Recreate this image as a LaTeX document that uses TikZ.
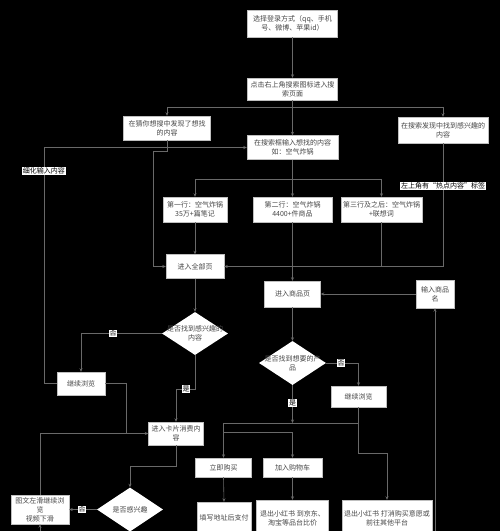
\documentclass[tikz,border=0pt]{standalone}
\usepackage{fontspec}
\setmainfont{Noto Sans CJK SC}
\usetikzlibrary{shapes.geometric,arrows.meta}
\definecolor{ln}{RGB}{105,105,105}
\definecolor{tx}{RGB}{70,70,70}
\begin{document}
\begin{tikzpicture}[x=1pt,y=-1pt,
 box/.style={draw=gray!50,line width=0.4pt,fill=white,text=tx,align=center,inner sep=1pt,font=\fontsize{7}{9}\selectfont},
 sz/.style 2 args={minimum width=#1pt,minimum height=#2pt},
 dia/.style={shape=diamond,fill=white,inner sep=0pt},
 diatext/.style={text=tx,align=center,inner sep=0pt,font=\fontsize{7}{9}\selectfont},
 conn/.style={draw=ln,line width=0.6pt,-{Stealth[length=3.5pt,width=3pt]}},
 plain/.style={draw=ln,line width=0.6pt},
 tag/.style={fill=white,text=black,inner sep=0.6pt,font=\fontsize{7}{8}\selectfont},
]
\useasboundingbox (0,0) rectangle (500,531);
\fill[black] (0,0) rectangle (500,531);
\clip (0,0) rectangle (500,531);

% nodes
\node[box,sz={90}{27}] (n1) at (292.5,23.5) {选择登录方式（qq、手机\\号、微博、苹果id）};
\node[box,sz={90}{22}] (n2) at (292.5,89) {点击右上角搜索图标进入搜\\索页面};
\node[box,sz={87}{24}] (n3) at (167,128) {在猜你想搜中发现了想找\\的内容};
\node[box,sz={91}{24}] (n4) at (292.5,147.5) {在搜索框输入想找的内容\\如：空气炸锅};
\node[box,sz={90}{26}] (n5) at (443,130) {在搜索发现中找到感兴趣的\\内容};
\node[box,sz={64}{25}] (n7) at (195,209.5) {第一行：空气炸锅\\35万+篇笔记};
\node[box,sz={79}{25}] (n8) at (292.5,209.5) {第二行：空气炸锅\\4400+件商品};
\node[box,sz={81}{25}] (n9) at (381.5,209.5) {第三行及之后：空气炸锅\\+联想词};
\node[box,sz={58}{24}] (n10) at (195,266.5) {进入全部页};
\node[box,sz={56}{26}] (n11) at (292.5,294) {进入商品页};
\node[box,sz={38}{28}] (n12) at (435,294) {输入商品\\名};

\node[dia,sz={66}{43}] (d1) at (195,333.5) {};
\node[diatext] (d1t) at (d1) {是否找到感兴趣的\\内容};
\node[box,sz={48}{23}] (c1) at (81,383.5) {继续浏览};
\node[dia,sz={67}{44}] (d2) at (292.5,363) {};
\node[diatext] (d2t) at (d2) {是否找到想要的产\\品};
\node[box,sz={55}{21}] (c2) at (358.5,396.5) {继续浏览};
\node[box,sz={55}{23}] (card) at (176,433.5) {进入卡片消费内\\容};
\node[dia,sz={66}{44}] (d3) at (130,509.5) {};
\node[diatext] (d3t) at (d3) {是否感兴趣};
\node[box,sz={58}{29}] (tw) at (40,509.5) {图文左滑继续浏\\览\\视频下滑};
\node[box,sz={56}{19}] (buy) at (223.5,467.5) {立即购买};
\node[box,sz={59}{19}] (cart) at (292.5,467.5) {加入购物车};
\node[box,sz={54}{32}] (pay) at (224,518) {填写地址后支付};
\node[box,sz={72}{36}] (ex1) at (292.5,518) {退出小红书 到京东、\\淘宝等品台比价};
\node[box,sz={90}{36}] (ex2) at (387,518) {退出小红书 打消购买意愿或\\前往其他平台};

% coordinates
\coordinate (j1) at (292.5,107);
\coordinate (rf) at (44,0);
\coordinate (a3) at (153,151);
\coordinate (j2) at (292.5,179);
\coordinate (b1) at (435,540);
\coordinate (y1) at (176,389);
\coordinate (k1) at (126,433.5);
\coordinate (k2) at (130,466);
\coordinate (b2) at (40,540);
\coordinate (j3) at (292.5,423);
\coordinate (j4) at (358.5,423);
\coordinate (j5) at (358.5,453);
\coordinate (j6) at (223.5,423);
\coordinate (j7) at (223.5,432);

% connectors
\draw[conn] (n1.south) -- (n2.north);
\draw[conn] (n2.south) -- (n4.north);
\draw[conn] (j1) -| (n3.north);
\draw[conn] (j1) -| (n5.north);
\draw[conn] (c1.west) -| (rf |- n4.west) -- (n4.west);
\draw[conn] (n3.south) |- (a3) |- (n10.west);
\draw[conn] (n4.south) -- (n8.north);
\draw[conn] (j2) -| (n7.north);
\draw[conn] (j2) -| (n9.north);
\draw[conn] (n7.south) -- (n10.north);
\draw[conn] (n8.south) -- (n11.north);
\draw[conn] (n5.south) |- (n10.east);
\draw[plain] (n9.south) -- (n9.south |- n10.east);
\draw[conn] (n12.west) -- (n11.east);
\draw[conn] (b1) -- (n12.south);
\draw[conn] (n10.south) -- (d1.north);
\draw[conn] (d1.west) -| (c1.north);
\draw[conn] (d1.south) |- (y1) -- (card.north);
\draw[plain] (c1.east) -| (k1);
\draw[conn] (tw.north) |- (card.west);
\draw[conn] (card.south) |- (k2) -- (d3.north);
\draw[conn] (d3.west) -- (tw.east);
\draw[conn] (b2) -- (tw.south);
\draw[conn] (n11.south) -- (d2.north);
\draw[conn] (d2.east) -| (c2.north);
\draw[conn] (d2.south) -- (j3);
\draw[conn] (c2.south) -- (j5) -| (ex2.north);
\draw[conn] (j4) -- (j6) -- (buy.north);
\draw[conn] (j7) -| (cart.north);
\draw[conn] (buy.south) -- (pay.north);
\draw[conn] (cart.south) -- (ex1.north);

% labels
\node[tag] (lrf) at (44,171) {细化输入内容};
\node[tag] (lhot) at (443,186) {左上角有“热点内容”标签};
\node[tag] (no1) at (113,333.5) {否};
\node[tag] (yes1) at (186,389) {是};
\node[tag] (no2) at (341,363) {否};
\node[tag] (yes2) at (292.5,403) {是};
\node[tag] (no3) at (82,509.5) {否};
\end{tikzpicture}
\end{document}
